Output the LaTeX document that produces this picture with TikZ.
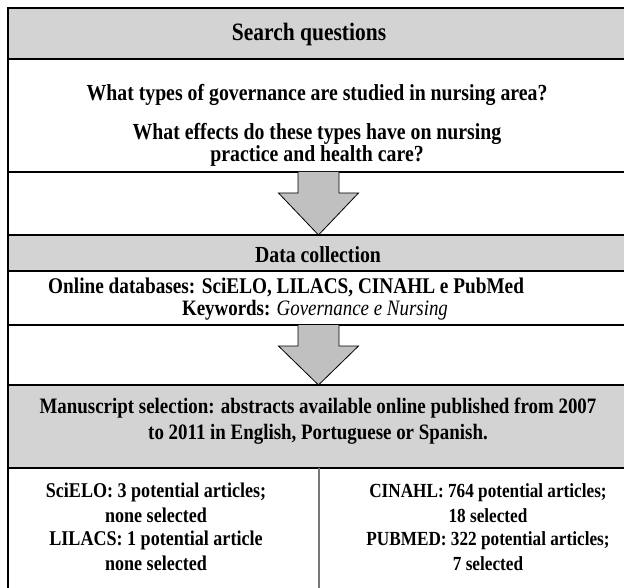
\documentclass[tikz,border=0pt]{standalone}
\usepackage{fontspec}
\setmainfont{Liberation Serif}[FakeStretch=0.86]
\definecolor{bandgray}{RGB}{211,211,211}
\definecolor{arrowgray}{RGB}{192,192,192}
\definecolor{divgray}{RGB}{120,120,120}
\begin{document}
\begin{tikzpicture}[x=1pt,y=-1pt,
  band/.style={draw=black, line width=1.3pt, fill=bandgray},
  plainbox/.style={draw=black, line width=1.3pt, fill=white},
  txt/.style={font=\fontsize{23}{25}\selectfont\bfseries, inner sep=0pt, anchor=base},
  txtm/.style={txt, font=\fontsize{22}{24}\selectfont\bfseries},
  txts/.style={txt, font=\fontsize{21}{23}\selectfont\bfseries},
  txtr/.style={txt, font=\fontsize{20}{22}\selectfont\bfseries},
  bigarrow/.style={draw=black, line width=0.8pt, fill=arrowgray, line join=miter}]
\path[use as bounding box] (0,0) rectangle (624,588);
\clip (0,0) rectangle (624,588);
\fill[white] (0,0) rectangle (624,588);
% boxes
\draw[band] (8,8) rectangle (632,59);
\draw[plainbox] (8,59) rectangle (632,172);
\draw[plainbox] (8,172) rectangle (632,235);
\draw[band] (8,235) rectangle (632,271);
\draw[plainbox] (8,271) rectangle (632,325);
\draw[plainbox] (8,325) rectangle (632,385);
\draw[band] (8,385) rectangle (632,468);
\draw[plainbox] (8,468) rectangle (632,600);
\draw[line width=1.8pt] (8,468) -- (632,468);
\draw[divgray, line width=1.3pt] (319,468) -- (319,600);
% arrows
\coordinate (a1) at (318.5,172);
\coordinate (a2) at (318.5,325);
\foreach \c/\h in {a1/235, a2/385}{
  \draw[bigarrow] ([xshift=-20.5pt]\c) -- ([xshift=-20.5pt,yshift=-21pt]\c) -- ([xshift=-40pt,yshift=-21pt]\c)
    -- (318.5,\h) -- ([xshift=40pt,yshift=-21pt]\c) -- ([xshift=20.5pt,yshift=-21pt]\c) -- ([xshift=20.5pt]\c);
}
% texts
\node[txt, font=\fontsize{25}{27}\selectfont\bfseries] (sq) at (309,41) {Search questions};
\node[txt] (q1) at (317,101) {What types of governance are studied in nursing area?};
\node[txt] (q2) at (317,140) {What effects do these types have on nursing};
\node[txt] (q3) at (317,162) {practice and health care?};
\node[txt] (dc) at (318,262) {Data collection};
\node[txtm, anchor=base west, font=\fontsize{22.4}{24}\selectfont\bfseries] (od) at (48,294) {Online databases: SciELO, LILACS, CINAHL e PubMed};
\node[txtm] (kw) at (315,315.5) {Keywords: \mdseries\itshape Governance e Nursing};
\node[txtm] (ms1) at (318,413) {Manuscript selection: abstracts available online published from 2007};
\node[txtm] (ms2) at (318,439) {to 2011 in English, Portuguese or Spanish.};
\node[txts] (l1) at (156,497) {SciELO: 3 potential articles;};
\node[txts] (l2) at (156,522) {none selected};
\node[txts] (l3) at (156,545) {LILACS: 1 potential article};
\node[txts] (l4) at (156,570) {none selected};
\node[txtr] (r1) at (488,497) {CINAHL: 764 potential articles;};
\node[txtr] (r2) at (488,522) {18 selected};
\node[txtr] (r3) at (488,545) {PUBMED: 322 potential articles;};
\node[txtr] (r4) at (488,570) {7 selected};
\end{tikzpicture}
\end{document}
